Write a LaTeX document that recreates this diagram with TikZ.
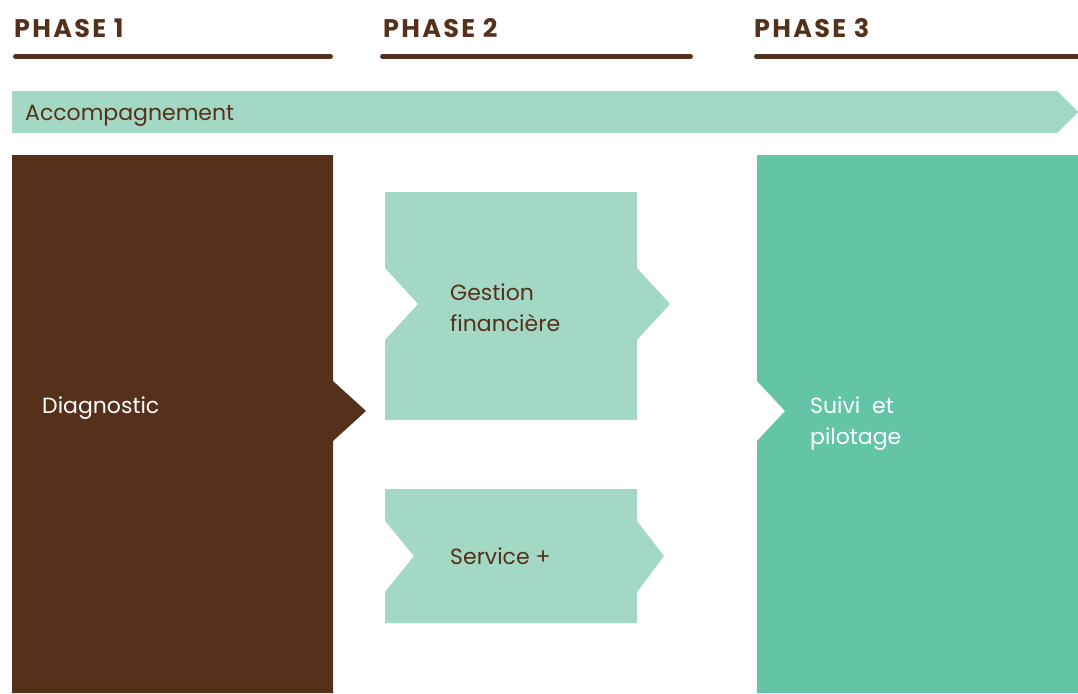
\documentclass[tikz,border=0pt]{standalone}
\usepackage{fontspec}
\setmainfont{Poppins}
\definecolor{brownc}{HTML}{55301A}
\definecolor{lightteal}{HTML}{A3D8C5}
\definecolor{midteal}{HTML}{63C4A6}
\begin{document}
\begin{tikzpicture}[x=1pt,y=-1pt,
  phase/.style={anchor=base west,inner sep=0pt,font=\fontsize{25.5}{28}\selectfont\bfseries\addfontfeature{LetterSpace=9},text=brownc},
  phaseline/.style={draw=brownc,line width=5pt,line cap=round},
  lbl/.style={anchor=base west,inner sep=0pt,align=left,font=\fontsize{22}{31}\selectfont,text=brownc},
  wlbl/.style={lbl,text=white}]
\useasboundingbox (0,0) rectangle (1078,693);
% phase titles
\node[phase] (p1) at (14,37.5) {PHASE 1};
\node[phase] (p2) at (383,37.5) {PHASE 2};
\node[phase] (p3) at (754,37.5) {PHASE 3};
\draw[phaseline] (15.5,56.5) -- (330.5,56.5);
\draw[phaseline] (382.5,56.5) -- (690.5,56.5);
\draw[phaseline] (756.5,56.5) -- (1085,56.5);
% accompagnement band
\fill[lightteal] (12,91) -- (1057,91) -- (1078,112) -- (1057,133) -- (12,133) -- cycle;
\node[lbl] (acc) at (25,120.5) {Accompagnement};
% diagnostic
\fill[brownc] (12,155) -- (333,155) -- (333,381) -- (366,411) -- (333,441) -- (333,693) -- (12,693) -- cycle;
\node[wlbl] (diag) at (42,413) {Diagnostic};
% gestion financiere
\fill[lightteal] (385,192) -- (637,192) -- (637,268) -- (670,304) -- (637,340) -- (637,420) -- (385,420) -- (385,340) -- (418,304) -- (385,268) -- cycle;
\node[lbl] (gest) at (450,331) {Gestion\\financière};
% service +
\fill[lightteal] (385,489) -- (637,489) -- (637,521) -- (664,556) -- (637,592) -- (637,623) -- (385,623) -- (385,592) -- (414,556) -- (385,521) -- cycle;
\node[lbl] (serv) at (450,564) {Service +};
% suivi et pilotage
\fill[midteal] (757,155) -- (1078,155) -- (1078,693) -- (757,693) -- (757,441) -- (785,411) -- (757,381) -- cycle;
\node[wlbl] (suivi) at (810,444.5) {Suivi\ \ et\\pilotage};
\end{tikzpicture}
\end{document}
